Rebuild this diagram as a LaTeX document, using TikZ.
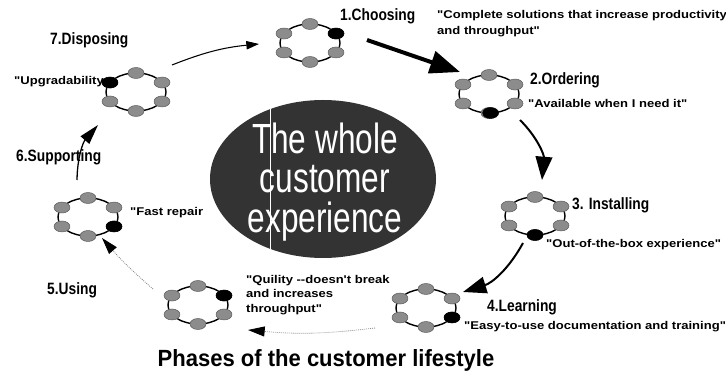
\documentclass[tikz,border=0pt]{standalone}
\usepackage{fontspec}
\setmainfont{Liberation Sans}
\newfontfamily\bigfont{Liberation Sans}[FakeStretch=0.75]
\newfontfamily\phasefont{Liberation Sans}[FakeStretch=0.84]
\newfontfamily\sayfont{Liberation Sans}[FakeStretch=1.16]
\newfontfamily\titlefont{Liberation Sans}[FakeStretch=0.94]
\usepackage{tikz}
\usetikzlibrary{shapes.geometric, arrows.meta}
\tikzstyle{ring} = [ellipse,
                    draw=black,
                    line width=1.2pt,
                    minimum width=1.8cm,
                    minimum height=1.14cm,
                    inner sep=0pt,
                    outer sep=0pt,
                   ]
\tikzstyle{blob} = [ellipse,
                    fill=black!45,
                    draw=black!65,
                    line width=0.4pt,
                    minimum width=0.48cm,
                    minimum height=0.33cm,
                    inner sep=0pt,
                   ]
\tikzstyle{darkblob} = [blob, fill=black, draw=black]
\tikzstyle{phase} = [anchor=west, inner sep=0pt,
                     font=\phasefont\bfseries\fontsize{14}{16}\selectfont]
\tikzstyle{saying} = [anchor=west, inner sep=0pt, align=left,
                      font=\sayfont\bfseries\fontsize{9.6}{13.7}\selectfont]
\tikzstyle{bigarrow} = [line width=3.4pt, -{Triangle[length=0.9cm,width=0.68cm]}]
\tikzstyle{midarrow} = [line width=1.7pt, -{Triangle[length=0.7cm,width=0.5cm]}]
\tikzstyle{thinarrow} = [line width=1.1pt, -{Triangle[length=0.6cm,width=0.34cm]}]
\tikzstyle{hairarrow} = [line width=0.9pt, -{Triangle[length=0.38cm,width=0.25cm]}]
\tikzstyle{dotarrow} = [draw=black!50, densely dotted, line width=0.7pt,
                        -{Triangle[length=0.5cm,width=0.3cm,fill=black,color=black]}]

\begin{document}
\begin{tikzpicture}[x=0.03cm, y=-0.03cm]
\useasboundingbox (0,0) rectangle (726,377);

% the whole experience in the middle
\node (c) [ellipse, fill=black!80, minimum width=6.78cm, minimum height=4.74cm, inner sep=0pt] at (323,179) {};
\draw [white, line width=0.5pt] ([shift={(-53,-70)}]c.center) -- ([shift={(-53,70)}]c.center);
\node (ctext) [text=white, align=center, inner sep=0pt, font=\bigfont\fontsize{36}{33.5}\selectfont] at (325,182) {The whole\\customer\\experience};

% the seven phases
\node (c1) [ring] at (310,43) {};
\node (c2) [ring] at (489,94) {};
\node (c3) [ring] at (535,216) {};
\node (c4) [ring] at (426,308) {};
\node (c5) [ring] at (198,305) {};
\node (c6) [ring] at (88,217) {};
\node (c7) [ring] at (136,92) {};

\foreach \r in {c1,c2,c3,c4,c5,c6,c7}
  \foreach \a in {20,90,160,200,270,340}
    \node (\r-\a) [blob] at (\r.\a) {};

\node (c1-dark) [darkblob] at (c1.20) {};
\node (c2-dark) [darkblob] at (c2.275) {};
\node (c3-dark) [darkblob] at (c3.270) {};
\node (c4-dark) [darkblob] at (c4.340) {};
\node (c5-dark) [darkblob] at (c5.20) {};
\node (c6-dark) [darkblob] at (c6.340) {};
\node (c7-dark) [darkblob] at (c7.160) {};

% labels
\node (t1) [phase] at (340,16) {1.Choosing};
\node (q1) [saying] at (437,24) {"Complete solutions that increase productivity\\and throughput"};
\node (t2) [phase] at (530,80) {2.Ordering};
\node (q2) [saying] at (528,103) {"Available when I need it"};
\node (t3) [phase] at (572,205) {3. Installing};
\node (q3) [saying] at (546,245) {"Out-of-the-box experience"};
\node (t4) [phase] at (487,307) {4.Learning};
\node (q4) [saying] at (464,327) {"Easy-to-use documentation and training"};
\node (t5) [phase] at (47,290) {5.Using};
\node (q5) [saying, font=\sayfont\bfseries\fontsize{9.6}{12.3}\selectfont] at (246,295) {"Quility -{}-doesn't break\\and increases\\throughput"};
\node (t6) [phase] at (16,157) {6.Supporting};
\node (q6) [saying] at (130,213) {"Fast repair};
\node (t7) [phase] at (50,40) {7.Disposing};
\node (q7) [saying] at (14,82) {"Upgradability};

\node (title) [inner sep=0pt, font=\titlefont\bfseries\fontsize{20}{24}\selectfont] at (326,360) {Phases of the customer lifestyle};

% arrows round the cycle
\draw [bigarrow] ([shift={(27,-3)}]c1.east) -- ([shift={(-29,-22)}]c2.center);
\draw [midarrow] ([shift={(31,26)}]c2.center) to[bend left=25] ([shift={(7,-36)}]c3.center);
\draw [midarrow] ([shift={(-12,27)}]c3.center) to[bend left=22] ([shift={(37,-16)}]c4.center);
\draw [dotarrow] ([shift={(-51,20)}]c4.center) to[bend left=6] ([shift={(50,25)}]c5.center);
\draw [dotarrow] ([shift={(-45,-16)}]c5.center) to[bend left=4] ([shift={(14,21)}]c6.center);
\draw [thinarrow] ([shift={(-11,-37)}]c6.center) to[bend left=20] ([shift={(-38,33)}]c7.center);
\draw [hairarrow] ([shift={(36,-27)}]c7.center) to[bend left=8] ([shift={(-51,1)}]c1.center);

\end{tikzpicture}
\end{document}
